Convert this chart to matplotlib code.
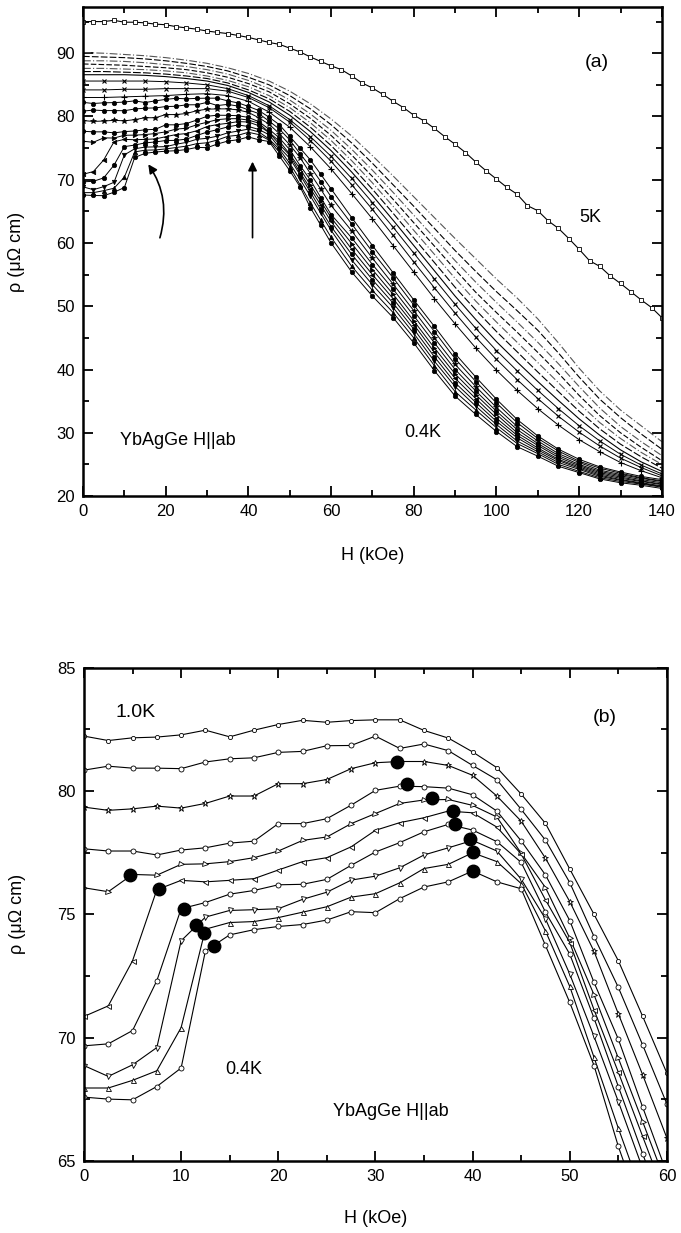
import matplotlib
matplotlib.use('Agg')
import matplotlib.pyplot as plt
from matplotlib.ticker import MultipleLocator

plt.rcParams['font.family'] = ['Liberation Sans', 'DejaVu Sans']

# field grids (kOe)
x_b = [0, 2.5, 5, 7.5, 10, 12.5, 15, 17.5, 20, 22.5, 25, 27.5, 30, 32.5, 35, 37.5,
       40, 42.5, 45, 47.5, 50, 52.5, 55, 57.5, 60]
x_hi = [65, 70, 75, 80, 85, 90, 95, 100, 105, 110, 115, 120, 125, 130, 135, 140]
x_a = [0, 5, 10, 15, 20, 25, 30, 35, 40, 45, 50, 55, 60, 65, 70, 75, 80, 85, 90, 95,
       100, 105, 110, 115, 120, 125, 130, 135, 140]
x_5k = [0, 2.5, 5, 7.5, 10, 12.5, 15, 17.5, 20, 22.5, 25, 27.5, 30, 32.5, 35, 37.5,
        40, 42.5, 45, 47.5, 50, 52.5, 55, 57.5, 60, 62.5, 65, 67.5, 70, 72.5, 75, 77.5,
        80, 82.5, 85, 87.5, 90, 92.5, 95, 97.5, 100, 102.5, 105, 107.5, 110, 112.5, 115,
        117.5, 120, 122.5, 125, 127.5, 130, 132.5, 135, 137.5, 140]

# low temperature curves, 1.0K (c1) down to 0.4K (c10), 0-60 kOe
c1 = [82.23, 82.05, 82.16, 82.19, 82.28, 82.47, 82.20, 82.47, 82.70, 82.87, 82.79, 82.86, 82.89,
      82.89, 82.46, 82.15, 81.59, 80.95, 79.88, 78.69, 76.84, 75.00, 73.12, 70.87, 68.56]
c2 = [80.85, 81.01, 80.93, 80.93, 80.91, 81.18, 81.31, 81.35, 81.57, 81.61, 81.84, 81.85, 82.23,
      81.73, 81.91, 81.64, 81.04, 80.46, 79.26, 78.01, 76.29, 74.10, 72.04, 69.71, 67.31]
c3 = [79.35, 79.22, 79.28, 79.39, 79.31, 79.50, 79.80, 79.80, 80.30, 80.30, 80.47, 80.91, 81.15,
      81.20, 81.20, 81.04, 80.64, 79.80, 78.78, 77.28, 75.52, 73.50, 70.97, 68.50, 65.93]
c4 = [77.66, 77.57, 77.57, 77.41, 77.61, 77.70, 77.89, 77.97, 78.68, 78.68, 78.88, 79.43, 80.03,
      80.20, 80.18, 80.12, 79.85, 79.19, 77.98, 76.60, 74.75, 72.24, 69.94, 67.19, 64.50]
c5 = [76.08, 75.92, 76.62, 76.59, 77.03, 77.05, 77.14, 77.30, 77.57, 78.00, 78.14, 78.68, 79.09,
      79.50, 79.64, 79.66, 79.42, 78.95, 77.48, 76.09, 74.04, 71.74, 69.17, 66.60, 64.00]
c6 = [70.86, 71.29, 73.12, 76.00, 76.38, 76.32, 76.38, 76.45, 76.80, 77.14, 77.30, 77.74, 78.41,
      78.72, 78.92, 79.19, 79.12, 78.54, 77.45, 75.59, 73.86, 71.13, 68.60, 66.00, 63.40]
c7 = [69.67, 69.75, 70.29, 72.31, 75.23, 75.48, 75.82, 75.97, 76.20, 76.22, 76.42, 76.99, 77.53,
      77.91, 78.35, 78.65, 78.42, 77.95, 77.11, 75.09, 73.39, 70.79, 68.02, 65.30, 62.60]
c8 = [68.87, 68.43, 68.90, 69.60, 73.93, 74.89, 75.16, 75.19, 75.23, 75.61, 75.90, 76.39, 76.55,
      76.89, 77.41, 77.70, 78.00, 77.57, 76.43, 74.82, 72.58, 70.05, 67.41, 64.70, 62.00]
c9 = [67.96, 67.96, 68.27, 68.66, 70.41, 74.40, 74.67, 74.71, 74.87, 75.09, 75.31, 75.70, 75.84,
      76.28, 76.86, 77.03, 77.50, 77.14, 76.25, 74.33, 72.08, 69.20, 66.33, 63.60, 60.90]
c10 = [67.59, 67.51, 67.48, 68.02, 68.77, 73.52, 74.17, 74.38, 74.51, 74.59, 74.77, 75.11, 75.07,
       75.64, 76.11, 76.32, 76.76, 76.32, 76.04, 73.74, 71.43, 68.87, 65.59, 62.80, 60.00]

# same curves, 65-140 kOe (panel a)
c1_hi = [64.0, 59.6, 55.3, 51.0, 46.8, 42.5, 38.8, 35.3, 32.1, 29.5, 27.4, 25.8, 24.6, 23.8, 23.1, 22.6]
c2_hi = [63.0, 58.6, 54.5, 50.2, 46.0, 41.7, 38.1, 34.7, 31.6, 29.1, 27.1, 25.5, 24.4, 23.6, 22.9, 22.4]
c3_hi = [61.9, 57.6, 53.5, 49.3, 45.0, 40.8, 37.3, 34.0, 31.0, 28.7, 26.7, 25.3, 24.1, 23.4, 22.8, 22.3]
c4_hi = [60.8, 56.6, 52.7, 48.5, 44.2, 40.0, 36.6, 33.4, 30.5, 28.3, 26.4, 25.0, 23.9, 23.2, 22.6, 22.1]
c5_hi = [59.9, 55.8, 51.9, 47.7, 43.4, 39.3, 36.0, 32.9, 30.0, 28.0, 26.1, 24.8, 23.7, 23.0, 22.4, 21.9]
c6_hi = [59.0, 55.0, 51.2, 47.1, 42.7, 38.6, 35.4, 32.3, 29.6, 27.6, 25.8, 24.6, 23.5, 22.8, 22.3, 21.8]
c7_hi = [58.2, 54.2, 50.5, 46.4, 42.0, 37.9, 34.8, 31.8, 29.2, 27.3, 25.6, 24.4, 23.3, 22.6, 22.1, 21.6]
c8_hi = [57.3, 53.4, 49.8, 45.7, 41.3, 37.3, 34.2, 31.3, 28.7, 27.0, 25.3, 24.2, 23.1, 22.5, 22.0, 21.5]
c9_hi = [56.3, 52.5, 49.0, 45.0, 40.6, 36.5, 33.6, 30.8, 28.3, 26.7, 25.0, 23.9, 22.9, 22.3, 21.9, 21.4]
c10_hi = [55.4, 51.6, 48.2, 44.2, 39.8, 35.8, 32.9, 30.2, 27.8, 26.3, 24.7, 23.7, 22.7, 22.1, 21.7, 21.2]

# higher temperature curves of panel a (0-140 kOe, every 5 kOe)
u1 = [83.0, 83.0, 83.1, 83.2, 83.3, 83.5, 83.6, 83.3, 82.4, 80.7, 78.3, 75.2, 71.7, 67.8, 63.8, 59.6,
      55.4, 51.2, 47.2, 43.4, 39.9, 36.7, 33.8, 31.2, 28.9, 27.0, 25.3, 24.0, 22.9]
u2 = [84.2, 84.2, 84.3, 84.3, 84.4, 84.4, 84.4, 84.0, 83.0, 81.4, 79.1, 76.2, 72.9, 69.2, 65.3, 61.2,
      57.0, 52.9, 48.9, 45.1, 41.6, 38.4, 35.4, 32.6, 30.1, 27.9, 26.0, 24.5, 23.2]
u3 = [85.6, 85.6, 85.6, 85.6, 85.5, 85.3, 85.0, 84.4, 83.3, 81.7, 79.5, 76.8, 73.7, 70.2, 66.4, 62.5,
      58.4, 54.3, 50.3, 46.5, 43.0, 39.8, 36.7, 33.8, 31.1, 28.7, 26.6, 24.9, 23.5]
u4 = [86.6, 86.6, 86.6, 86.5, 86.3, 86.0, 85.6, 84.9, 83.8, 82.3, 80.2, 77.6, 74.6, 71.2, 67.5, 63.6,
      59.6, 55.6, 51.6, 47.9, 44.4, 41.2, 38.1, 35.1, 32.2, 29.6, 27.3, 25.4, 23.9]
d1 = [87.1, 87.1, 87.0, 86.9, 86.7, 86.4, 86.0, 85.3, 84.2, 82.8, 80.8, 78.3, 75.4, 72.1, 68.5, 64.7,
      60.8, 56.9, 53.0, 49.4, 46.0, 42.8, 39.6, 36.5, 33.4, 30.6, 28.2, 26.2, 24.4]
d2 = [87.6, 87.6, 87.5, 87.4, 87.2, 86.9, 86.4, 85.7, 84.7, 83.3, 81.4, 79.0, 76.2, 73.0, 69.5, 65.8,
      62.0, 58.2, 54.4, 50.8, 47.5, 44.3, 41.1, 37.9, 34.6, 31.6, 29.1, 26.9, 25.0]
d3 = [88.3, 88.2, 88.1, 87.9, 87.7, 87.4, 86.9, 86.2, 85.2, 83.9, 82.0, 79.7, 77.0, 73.9, 70.5, 66.9,
      63.2, 59.5, 55.8, 52.2, 49.0, 45.9, 42.7, 39.4, 35.9, 32.7, 30.0, 27.7, 25.6]
d4 = [88.8, 88.8, 88.7, 88.5, 88.2, 87.9, 87.4, 86.7, 85.7, 84.4, 82.6, 80.4, 77.8, 74.8, 71.5, 68.0,
      64.4, 60.8, 57.2, 53.8, 50.6, 47.5, 44.3, 40.9, 37.3, 33.9, 31.0, 28.6, 26.4]
d5 = [89.5, 89.4, 89.3, 89.1, 88.8, 88.4, 87.9, 87.2, 86.2, 85.0, 83.3, 81.2, 78.7, 75.8, 72.6, 69.2,
      65.8, 62.3, 58.8, 55.5, 52.3, 49.3, 46.2, 42.6, 38.8, 35.3, 32.4, 29.8, 27.4]
d6 = [90.1, 90.0, 89.8, 89.6, 89.3, 88.9, 88.4, 87.7, 86.8, 85.6, 84.0, 82.0, 79.6, 76.9, 73.8, 70.6,
      67.3, 64.0, 60.7, 57.5, 54.3, 51.3, 48.0, 44.2, 40.2, 36.6, 33.6, 31.1, 28.6]

# 5K curve
r_5k = [95.0, 95.0, 95.0, 95.2, 94.9, 94.9, 94.8, 94.6, 94.5, 94.2, 94.0, 93.8, 93.5, 93.3, 93.1,
        92.8, 92.5, 92.1, 91.7, 91.4, 90.8, 90.2, 89.4, 88.7, 88.0, 87.4, 86.4, 85.3, 84.5, 83.5,
        82.4, 81.4, 80.2, 79.3, 78.1, 76.8, 75.6, 74.3, 72.8, 71.4, 70.1, 68.8, 67.7, 65.9, 65.1,
        63.5, 62.3, 60.7, 59.0, 57.2, 56.3, 54.8, 53.6, 52.3, 51.0, 49.8, 48.2]

# transition points (panel b)
dots_low_x = [4.73, 7.75, 10.29, 11.49, 12.35, 13.38]
dots_low_y = [76.61, 76.02, 75.23, 74.58, 74.24, 73.73]
dots_high_x = [32.25, 33.27, 35.8, 38.0, 38.2, 39.7, 40.0, 40.0]
dots_high_y = [81.20, 80.30, 79.70, 79.19, 78.65, 78.07, 77.53, 76.76]

low = [c1, c2, c3, c4, c5, c6, c7, c8, c9, c10]
low_hi = [c1_hi, c2_hi, c3_hi, c4_hi, c5_hi, c6_hi, c7_hi, c8_hi, c9_hi, c10_hi]
marks = ['o', 'o', '*', 'o', '>', '<', 'o', 'v', '^', 'o']


def style(ax):
    for s in ax.spines.values():
        s.set_linewidth(1.8)
    ax.tick_params(which='both', direction='in', top=True, right=True,
                   labelsize=12, width=1.3)
    ax.tick_params(which='major', length=7, pad=6)
    ax.tick_params(which='minor', length=4)


fig = plt.figure(figsize=(6.81, 12.33), dpi=100)

# ---- panel (a)
ax1 = fig.add_axes([0.1219, 0.5977, 0.850, 0.3966])
ax1.plot(x_5k, r_5k, '-', color='k', lw=0.8, marker='s', ms=3.2,
         mfc='white', mec='k', mew=0.6)
dash_styles = [(0, (7, 2)), (0, (7, 2, 1, 2)), (0, (5, 2)), (0, (7, 2, 1, 2)),
               (0, (6, 2)), (0, (7, 2, 1, 2))]
dash_cols = ['k', '#555555', 'k', '#555555', 'k', '#555555']
for d, ls, col in zip([d1, d2, d3, d4, d5, d6], dash_styles, dash_cols):
    ax1.plot(x_a, d, color=col, lw=0.8, ls=ls)
ax1.plot(x_a, u4, color='k', lw=0.8)
ax1.plot(x_a, u3, '-', color='k', lw=0.7, marker='x', ms=3.5, mew=0.8)
ax1.plot(x_a, u2, '-', color='k', lw=0.7, marker='x', ms=3.5, mew=0.8)
ax1.plot(x_a, u1, '-', color='k', lw=0.7, marker='+', ms=4, mew=0.8)
for c, ch, m in zip(low, low_hi, marks):
    ax1.plot(x_b + x_hi, c + ch, '-', color='k', lw=0.7, marker=m,
             ms=3.2 if m != '*' else 4.2, mfc='k', mec='k', mew=0.5)

ax1.set_xlim(0, 140)
ax1.set_ylim(20, 97.3)
ax1.xaxis.set_major_locator(MultipleLocator(20))
ax1.xaxis.set_minor_locator(MultipleLocator(10))
ax1.yaxis.set_major_locator(MultipleLocator(10))
ax1.yaxis.set_minor_locator(MultipleLocator(5))
style(ax1)
ax1.set_xlabel('H (kOe)', fontsize=13)
ax1.set_ylabel('ρ (μΩ cm)', fontsize=13)
ax1.xaxis.set_label_coords(0.5, -0.105)
ax1.yaxis.set_label_coords(-0.10, 0.5)

ax1.text(124.3, 88.6, '(a)', fontsize=14, ha='center', va='center')
ax1.text(122.6, 64.0, '5K', fontsize=13, ha='center', va='center')
ax1.text(82.2, 30.0, '0.4K', fontsize=13, ha='center', va='center')
ax1.text(8.9, 28.8, 'YbAgGe H||ab', fontsize=13, ha='left', va='center')
ax1.annotate('', xy=(15.4, 72.8), xytext=(18.4, 60.4),
             arrowprops=dict(arrowstyle='-|>', connectionstyle='arc3,rad=0.25',
                             color='k', lw=1.2, mutation_scale=13))
ax1.annotate('', xy=(41.0, 73.3), xytext=(41.0, 60.4),
             arrowprops=dict(arrowstyle='-|>', color='k', lw=1.2, mutation_scale=13))

# ---- panel (b)
ax2 = fig.add_axes([0.1233, 0.0584, 0.856, 0.400])
for i, (c, m) in enumerate(zip(low, marks)):
    ax2.plot(x_b, c, '-', color='k', lw=0.8, marker=m,
             ms=3.0 if i == 0 else (4.5 if m == '*' else 3.6),
             mfc='white', mec='k', mew=0.6)
ax2.plot(dots_low_x, dots_low_y, 'o', color='k', ms=9, ls='none')
ax2.plot(dots_high_x, dots_high_y, 'o', color='k', ms=9, ls='none')

ax2.set_xlim(0, 60)
ax2.set_ylim(65, 85)
ax2.xaxis.set_major_locator(MultipleLocator(10))
ax2.xaxis.set_minor_locator(MultipleLocator(5))
ax2.yaxis.set_major_locator(MultipleLocator(5))
ax2.yaxis.set_minor_locator(MultipleLocator(2.5))
style(ax2)
ax2.set_xlabel('H (kOe)', fontsize=13)
ax2.set_ylabel('ρ (μΩ cm)', fontsize=13)
ax2.xaxis.set_label_coords(0.5, -0.1)
ax2.yaxis.set_label_coords(-0.10, 0.5)

ax2.text(5.35, 83.2, '1.0K', fontsize=14, ha='center', va='center')
ax2.text(53.6, 83.0, '(b)', fontsize=14, ha='center', va='center')
ax2.text(16.4, 68.7, '0.4K', fontsize=13, ha='center', va='center')
ax2.text(31.6, 67.0, 'YbAgGe H||ab', fontsize=13, ha='center', va='center')

fig.savefig('out.png', dpi=100)
